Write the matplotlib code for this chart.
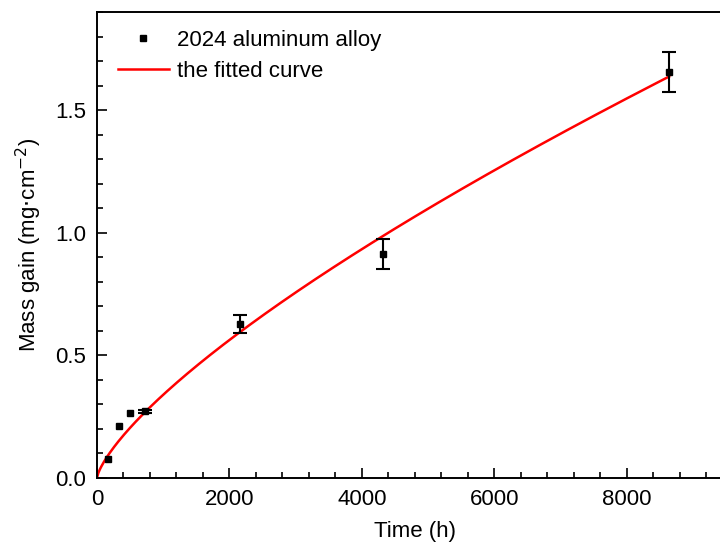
import matplotlib as mpl
mpl.use('Agg')
import matplotlib.pyplot as plt
import numpy as np
from matplotlib.ticker import MultipleLocator

plt.rcParams['font.family'] = ['Liberation Sans', 'DejaVu Sans']

# measured mass gain of 2024 aluminum alloy
time_h = [168, 336, 504, 720, 2160, 4320, 8640]
mass_gain = [0.077, 0.212, 0.265, 0.273, 0.628, 0.913, 1.656]
mass_err = [0.0, 0.0, 0.0, 0.006, 0.037, 0.060, 0.080]

# fitted power law  y = k * t^n
fit_k = 0.00219
fit_n = 0.73

fig = plt.figure(figsize=(7.2, 5.51), dpi=100)
ax = fig.add_axes([0.1346, 0.1325, 0.883, 0.8455])

t_fit = np.linspace(0, time_h[-1], 400)
ax.plot(t_fit, fit_k * t_fit ** fit_n, color='#ff0000', lw=1.8,
        label='the fitted curve', zorder=2)

# error bars only where there is a visible spread
t_e = [t for t, e in zip(time_h, mass_err) if e > 0]
y_e = [y for y, e in zip(mass_gain, mass_err) if e > 0]
e_e = [e for e in mass_err if e > 0]
ax.errorbar(t_e, y_e, yerr=e_e, fmt='none', ecolor='black',
            capsize=5, elinewidth=1.5, capthick=1.5, zorder=3)
ax.plot(time_h, mass_gain, 's', color='black', ms=4.5,
        label='2024 aluminum alloy', zorder=4)

ax.set_xlim(0, 9600)
ax.set_ylim(0, 1.9)
ax.xaxis.set_major_locator(MultipleLocator(2000))
ax.xaxis.set_minor_locator(MultipleLocator(400))
ax.yaxis.set_major_locator(MultipleLocator(0.5))
ax.yaxis.set_minor_locator(MultipleLocator(0.1))
ax.yaxis.set_major_formatter(mpl.ticker.FormatStrFormatter('%.1f'))
ax.tick_params(which='both', direction='in', top=False, right=False,
               labelsize=16, width=1.2)
ax.tick_params(which='major', length=7, pad=8)
ax.tick_params(which='minor', length=4)
for s in ax.spines.values():
    s.set_linewidth(1.4)

ax.set_xlabel('Time (h)', fontsize=16, labelpad=8)
ax.set_ylabel('Mass gain (mg$\\cdot$cm$^{-2}$)', fontsize=16, labelpad=8)

handles, labels = ax.get_legend_handles_labels()
ax.legend(handles[::-1], labels[::-1], loc='upper left', frameon=False,
          fontsize=16, handlelength=2.3, handletextpad=0.35,
          borderaxespad=0.4, labelspacing=0.45, bbox_to_anchor=(0.005, 1.0))

plt.savefig('out.png', dpi=100)
plt.close('all')
